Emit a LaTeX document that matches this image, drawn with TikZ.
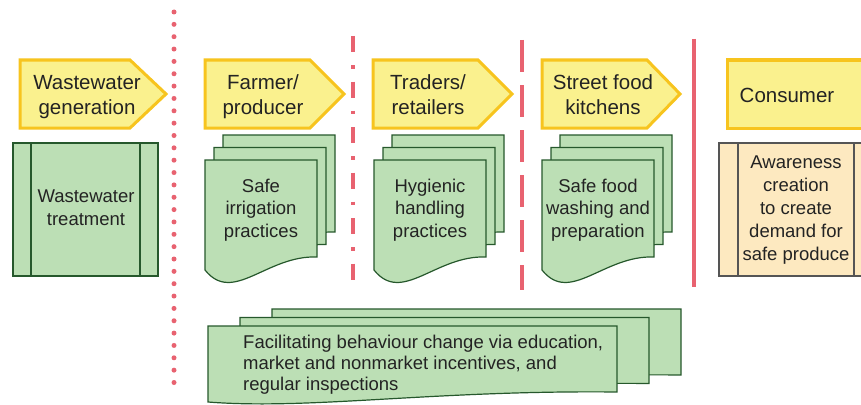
\documentclass[tikz,border=0pt]{standalone}
\usepackage{fontspec}
\setmainfont{Liberation Sans}
\definecolor{arrowfill}{RGB}{250,241,142}
\definecolor{arrowline}{RGB}{247,196,30}
\definecolor{docfill}{RGB}{188,223,181}
\definecolor{docline}{RGB}{38,88,44}
\definecolor{consfill}{RGB}{253,233,192}
\definecolor{consline}{RGB}{85,85,85}
\definecolor{sepred}{RGB}{232,98,112}
\definecolor{txt}{RGB}{35,35,35}
\newcommand\docpath[6]{% x0, ytop, w, hR, hL, amp
  \path[docbox] (#1,#2) -- ({#1+#3},#2) -- ({#1+#3},{#2+#4})
    .. controls ({#1+0.55*#3},{#2+#4-2}) and ({#1+0.25*#3},{#2+#5+#6}) .. (#1,{#2+#5}) -- cycle;}
\newcommand\multidoc[8]{% x0, ytop, w, hR, hL, amp, dx, dy
  \docpath{#1+2*#7}{#2+2*#8}{#3}{#4}{#5}{#6}
  \docpath{#1+#7}{#2+#8}{#3}{#4}{#5}{#6}
  \docpath{#1}{#2}{#3}{#4}{#5}{#6}}
\begin{document}
\begin{tikzpicture}[x=1pt,y=-1pt,
  arrowbox/.style={fill=arrowfill,draw=arrowline,line width=3pt,line join=miter},
  docbox/.style={fill=docfill,draw=docline,line width=1.2pt},
  consbox/.style={fill=consfill,draw=consline,line width=1.2pt},
  bigtext/.style={font=\fontsize{20.5}{25}\selectfont,text=txt,inner sep=0pt,align=center},
  boxtext/.style={font=\fontsize{18.5}{22.3}\selectfont,text=txt,inner sep=0pt,align=center},
  sepline/.style={draw=sepred,line width=3.5pt}]
\useasboundingbox (0,0) rectangle (861,404);
\clip (0,0) rectangle (861,404);
\fill[white] (0,0) rectangle (861,404);
% separators
\draw[sepred,line width=5pt,line cap=round,dash pattern=on 0pt off 12.35pt] (174,12) -- (174,385);
\draw[sepline,dash pattern=on 16pt off 13pt on 3.5pt off 13pt] (353,36) -- (353,282);
\draw[sepline,dash pattern=on 32pt off 13pt] (522,40) -- (522,290);
\draw[sepline] (694,39) -- (694,287);
% stage arrows
\path[arrowbox] (20,60) -- (130,60) -- (166,94) -- (130,128) -- (20,128) -- cycle;
\path[arrowbox] (205,60) -- (310,60) -- (344,94) -- (310,128) -- (205,128) -- cycle;
\path[arrowbox] (373,60) -- (478,60) -- (512,94) -- (478,128) -- (373,128) -- cycle;
\path[arrowbox] (542,60) -- (647,60) -- (680,94) -- (647,128) -- (542,128) -- cycle;
\path[arrowbox] (727,60) rectangle (880,128);
\node[bigtext,anchor=base] (gen) at (87,114) {Wastewater\\generation};
\node[bigtext,anchor=base] (farm) at (263,114) {Farmer/\\producer};
\node[bigtext,anchor=base] (trad) at (428,114) {Traders/\\retailers};
\node[bigtext,anchor=base] (street) at (603,114) {Street food\\kitchens};
\node[bigtext,anchor=base] (cons) at (787,102) {Consumer};
% wastewater treatment (predefined process)
\path[docbox] (13,143) rectangle (158,276);
\draw[docline,line width=1.2pt] (31,143) -- (31,276) (140,143) -- (140,276);
\node[boxtext,anchor=base] (treat) at (86,225) {Wastewater\\treatment};
% multi documents
\multidoc{205}{160}{112}{97}{110}{35}{9}{-12.5}
\multidoc{374}{160}{112}{97}{110}{35}{9}{-12.5}
\multidoc{542}{160}{112}{97}{110}{35}{9}{-12.5}
\node[boxtext,anchor=base] (irr) at (261,237) {Safe\\irrigation\\practices};
\node[boxtext,anchor=base] (hyg) at (430,237) {Hygienic\\handling\\practices};
\node[boxtext,anchor=base] (wash) at (598,237) {Safe food\\washing and\\preparation};
% consumer awareness
\path[consbox] (719,143) rectangle (873,276);
\draw[consline,line width=1.2pt] (738,143) -- (738,276) (854,143) -- (854,276);
\node[boxtext,anchor=base,font=\fontsize{18.5}{23}\selectfont] (aware) at (796,260) {Awareness\\creation\\to create\\demand for\\safe produce};
% bottom multi document
\multidoc{208}{326}{409}{66}{76}{8}{32}{-8.5}
\node[boxtext,anchor=base west,align=left,font=\fontsize{18.5}{21}\selectfont] (facil) at (243,390) {Facilitating behaviour change via education,\\market and nonmarket incentives, and\\regular inspections};
\end{tikzpicture}
\end{document}
